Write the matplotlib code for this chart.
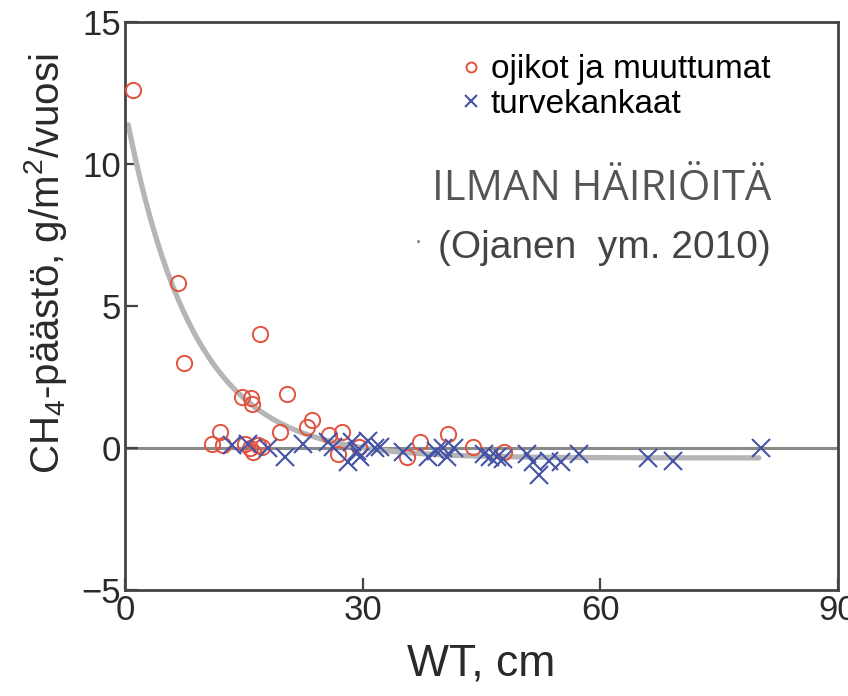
import numpy as np
import matplotlib.pyplot as plt

plt.rcParams['mathtext.fontset'] = 'custom'
plt.rcParams['mathtext.rm'] = 'Liberation Sans'
plt.rcParams['mathtext.it'] = 'Liberation Sans'

# ojikot ja muuttumat (drained sites): water table depth (cm) vs CH4 emission
ojikot_wt = [1.0, 6.7, 7.5, 17.0, 14.8, 15.9, 16.0, 20.4, 11.0, 12.0, 12.4, 15.2, 15.8,
             16.2, 16.8, 17.3, 19.6, 23.6, 23.0, 25.7, 27.4, 26.9, 29.5, 35.6, 37.3,
             40.8, 43.9, 47.8]
ojikot_ch4 = [12.6, 5.8, 3.0, 4.0, 1.8, 1.75, 1.55, 1.9, 0.13, 0.55, 0.1, 0.15, 0.0,
              -0.15, 0.1, 0.05, 0.55, 1.0, 0.75, 0.45, 0.55, -0.2, 0.05, -0.3, 0.2,
              0.5, 0.05, -0.15]

# turvekankaat
turve_wt = [13.5, 15.5, 18.1, 20.2, 22.5, 25.6, 26.3, 28.1, 28.6, 29.3, 29.7, 30.7,
            31.6, 32.2, 35.1, 38.3, 39.2, 40.1, 40.7, 41.5, 45.3, 46.1, 47.0, 47.7,
            50.8, 51.5, 52.2, 53.5, 55.0, 57.3, 66.0, 69.2, 80.3]
turve_ch4 = [0.1, 0.15, 0.0, -0.3, 0.15, 0.2, 0.05, -0.5, 0.2, -0.1, -0.3, 0.25,
             0.0, 0.05, -0.15, -0.3, -0.1, 0.0, -0.3, 0.0, -0.2, -0.3, -0.3, -0.4,
             -0.2, -0.5, -0.95, -0.45, -0.5, -0.2, -0.35, -0.45, 0.0]

# exponential fit y = a*exp(-b*x) + c
fit_a, fit_b, fit_c = 12.3, 0.1177, -0.35
fit_range = (0.4, 80.0)

RED = '#e2533f'
BLUE = '#4553a6'

fig = plt.figure(figsize=(8.48, 6.96), dpi=100)
ax = fig.add_axes([125 / 848, 1 - 590 / 696, 713 / 848, 568 / 696])

ax.axhline(0, color='#8a8a8a', lw=2.2, zorder=1)
xf = np.linspace(*fit_range, 300)
ax.plot(xf, fit_a * np.exp(-fit_b * xf) + fit_c, color='#b5b5b5', lw=3.8,
        solid_capstyle='round', zorder=2)

ax.plot(ojikot_wt, ojikot_ch4, 'o', ms=11, mfc='none', mec=RED, mew=1.4,
        label='ojikot ja muuttumat', zorder=3)
ax.plot(turve_wt, turve_ch4, 'x', ms=13, mec=BLUE, mew=1.5,
        label='turvekankaat', zorder=4)

ax.set_xlim(0, 90)
ax.set_ylim(-5, 15)
ax.set_xticks([0, 30, 60, 90])
ax.set_yticks([-5, 0, 5, 10, 15])
ax.tick_params(direction='in', length=9, width=1.6, color='#444444',
               labelsize=25, labelcolor='#2a2a2a', pad=3)
for s in ax.spines.values():
    s.set_color('#444444')
    s.set_linewidth(2)

for lbl in ax.get_xticklabels() + ax.get_yticklabels():
    lbl.set_family('Liberation Sans')
ax.set_xlabel('WT, cm', labelpad=12, family='Liberation Sans', size=32,
              color='#2a2a2a')
ax.set_ylabel('CH$_4$-päästö, g/m$^2$/vuosi', family='Liberation Sans',
              size=29, color='#2a2a2a')
ax.yaxis.set_label_coords(-0.078, 0.575)

ax.legend(loc='upper right', bbox_to_anchor=(0.933, 0.978), frameon=False,
          prop={'family': 'Liberation Sans', 'size': 24}, handlelength=0.6,
          handletextpad=0.3, labelspacing=0.1, borderaxespad=0.2,
          markerscale=0.65)

ax.text(0.906, 0.706, 'ILMAN HÄIRIÖITÄ', transform=ax.transAxes, ha='right',
        va='center', family='Open Sans', size=30, color='#555555')
ax.text(0.906, 0.602, '(Ojanen  ym. 2010)', transform=ax.transAxes, ha='right',
        va='center', family='Liberation Sans', size=28, color='#444444')
ax.text(0.411, 0.611, '·', transform=ax.transAxes, ha='center', va='center',
        size=16, color='#777777')

fig.savefig('out.png', dpi=100)
